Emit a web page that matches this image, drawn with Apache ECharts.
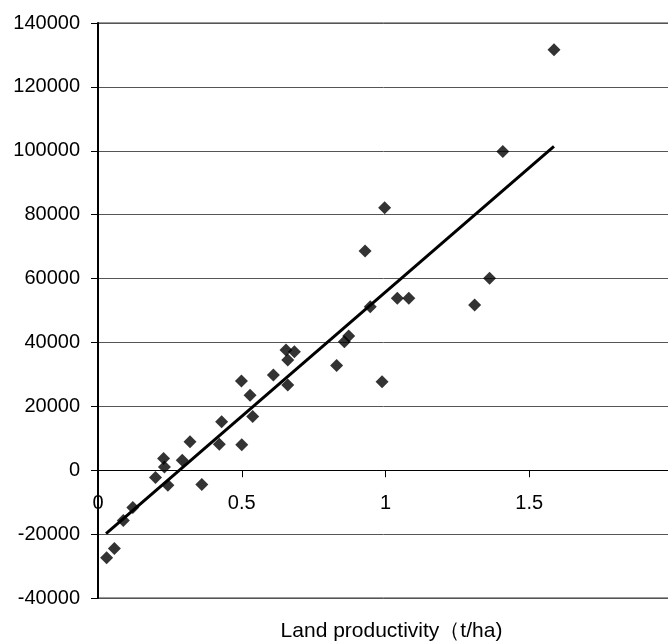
<!DOCTYPE html>
<html lang="en">
<head>
    <meta charset="UTF-8">
    <title>Land productivity</title>
    <script src="https://cdn.jsdelivr.net/npm/echarts@6/dist/echarts.min.js"></script>
    <style>
        html, body { margin: 0; padding: 0; background: #fff; }
        #chart { width: 668px; height: 641px; }
    </style>
</head>
<body>
<div id="chart"></div>

<script>
    // land productivity (t/ha) and the y value of each point
    var landProd = [0.030, 0.057, 0.088, 0.121, 0.200, 0.228, 0.231, 0.243, 0.293, 0.320,
                    0.361, 0.422, 0.430, 0.500, 0.499, 0.529, 0.538, 0.610, 0.660, 0.654,
                    0.683, 0.660, 0.830, 0.857, 0.872, 0.929, 0.947, 0.988, 0.997, 1.041,
                    1.081, 1.310, 1.362, 1.408, 1.586];
    var yValue   = [-27400, -24500, -15700, -11700, -2300, 3700, 1000, -4700, 3100, 8900,
                    -4500, 8100, 15200, 8000, 27900, 23500, 16800, 29800, 26700, 37600,
                    37100, 34500, 32800, 40200, 42000, 68600, 51200, 27700, 82200, 53800,
                    53800, 51700, 60100, 99800, 131600];
    // fitted line, ends
    var fitX = [0.028, 1.586];
    var fitY = [-19850, 101350];
    // axis ranges
    var xMin = 0, xMax = 2, xStep = 0.5;
    var yMin = -40000, yMax = 140000, yStep = 20000;

    var points = landProd.map(function (x, i) { return [x, yValue[i]]; });
    var fitLine = fitX.map(function (x, i) { return [x, fitY[i]]; });

    var myChart = echarts.init(document.getElementById('chart'));
    var fontFam = '"Liberation Sans", Arial, sans-serif';
    var plotH = 575;
    // x axis sits on y = 0; offset is the fallback if onZero is not applied
    var zeroOffset = -plotH * (0 - yMin) / (yMax - yMin);

    var option = {
        animation: false,
        grid: {
            left: 98, top: 23, width: 575, height: plotH,
            outerBoundsMode: 'none',
            containLabel: false,
            show: true, borderColor: '#333', borderWidth: 1
        },
        xAxis: {
            type: 'value',
            min: xMin, max: xMax, interval: xStep,
            offset: zeroOffset,
            axisLine: { onZero: true, onZeroAxisIndex: 0, lineStyle: { color: '#000', width: 1 } },
            axisTick: { show: true, length: 7, lineStyle: { color: '#000', width: 1 } },
            axisLabel: {
                margin: 23, color: '#000', fontSize: 20, fontFamily: fontFam,
                formatter: function (v) { return v === xMax ? '' : String(v); }
            },
            splitLine: { show: false },
            name: 'Land productivity（t/ha)',
            nameLocation: 'middle',
            nameGap: 150,
            nameTextStyle: { color: '#000', fontSize: 21, fontFamily: fontFam, padding: [0, 0, 0, 12] }
        },
        yAxis: {
            type: 'value',
            min: yMin, max: yMax, interval: yStep,
            axisLine: { show: true, onZero: false, lineStyle: { color: '#000', width: 2 } },
            axisTick: { show: true, length: 7, lineStyle: { color: '#000' } },
            axisLabel: {
                margin: 18, color: '#000', fontSize: 20, fontFamily: fontFam,
                formatter: function (v) { return String(v); }
            },
            splitLine: { show: true, lineStyle: { color: '#555', width: 1 } }
        },
        series: [
            {
                type: 'line',
                data: fitLine,
                symbol: 'none',
                lineStyle: { color: '#000', width: 3 },
                z: 3
            },
            {
                type: 'scatter',
                data: points,
                symbol: 'diamond',
                symbolSize: 13,
                itemStyle: { color: '#000' },
                z: 4
            }
        ]
    };

    option && myChart.setOption(option);
</script>
</body>
</html>
